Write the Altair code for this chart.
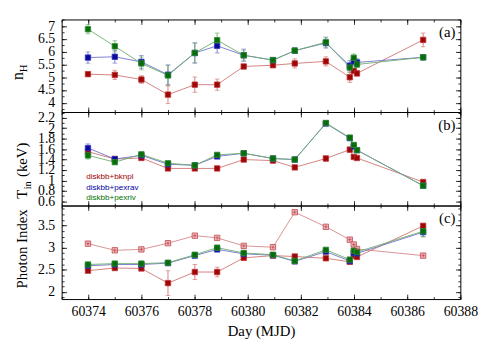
import altair as alt
import pandas as pd
import numpy as np

# ---------------- data ----------------
days = [60373.99, 60375.0, 60376.0, 60377.0, 60378.01, 60378.85, 60379.85,
        60380.95, 60381.77, 60382.94, 60383.84, 60383.99, 60384.11, 60386.6]

nh_bknpl = [5.12, 5.09, 4.91, 4.32, 4.71, 4.71, 5.42, 5.47, 5.54, 5.62, 5.00, 5.25, 5.15, 6.46]
nh_bknpl_err = [0.08, 0.18, 0.15, 0.35, 0.30, 0.22, 0.08, 0.08, 0.18, 0.18, 0.20, 0.10, 0.10, 0.27]
nh_pexrav = [5.77, 5.80, 5.60, 5.10, 5.95, 6.23, 5.86, 5.67, 6.04, 6.34, 5.45, 5.62, 5.58, 5.78]
nh_pexrav_err = [0.22, 0.25, 0.25, 0.38, 0.40, 0.28, 0.24, 0.10, 0.10, 0.20, 0.20, 0.15, 0.15, 0.10]
nh_pexriv = [6.88, 6.21, 5.54, 5.07, 5.95, 6.45, 5.86, 5.67, 6.04, 6.37, 5.38, 5.76, 5.50, 5.78]
nh_pexriv_err = [0.18, 0.22, 0.25, 0.40, 0.38, 0.28, 0.20, 0.08, 0.08, 0.20, 0.20, 0.15, 0.12, 0.10]

tin_bknpl = [1.55, 1.41, 1.43, 1.23, 1.23, 1.23, 1.40, 1.38, 1.25, 1.42, 1.59, 1.45, 1.43, 0.97]
tin_bknpl_err = [0.05, 0.02, 0.03, 0.02, 0.02, 0.02, 0.02, 0.02, 0.02, 0.05, 0.05, 0.03, 0.03, 0.03]
tin_pexrav = [1.62, 1.41, 1.48, 1.31, 1.29, 1.46, 1.52, 1.42, 1.40, 2.09, 1.81, 1.65, 1.58, 0.90]
tin_pexrav_err = [0.08, 0.02, 0.02, 0.02, 0.02, 0.02, 0.02, 0.02, 0.02, 0.03, 0.03, 0.03, 0.03, 0.03]
tin_pexriv = [1.48, 1.35, 1.50, 1.33, 1.29, 1.49, 1.52, 1.42, 1.40, 2.10, 1.82, 1.68, 1.58, 0.90]
tin_pexriv_err = [0.07, 0.02, 0.02, 0.02, 0.02, 0.02, 0.02, 0.02, 0.02, 0.03, 0.03, 0.03, 0.03, 0.03]

gam1_bknpl = [2.48, 2.54, 2.53, 2.20, 2.45, 2.45, 2.77, 2.82, 2.80, 2.76, 2.68, 2.82, 2.79, 3.49]
gam1_bknpl_err = [0.03, 0.04, 0.04, 0.28, 0.17, 0.11, 0.03, 0.03, 0.03, 0.03, 0.04, 0.04, 0.04, 0.06]
gam2_bknpl = [3.09, 2.94, 2.96, 3.10, 3.27, 3.22, 3.04, 3.01, 3.80, 3.47, 3.18, 3.07, 2.97, 2.82]
gam2_bknpl_err = [0.02] * 14
gam_pexrav = [2.59, 2.62, 2.62, 2.65, 2.82, 2.96, 2.86, 2.83, 2.69, 2.91, 2.70, 2.88, 2.87, 3.35]
gam_pexrav_err = [0.02, 0.02, 0.02, 0.02, 0.02, 0.02, 0.02, 0.02, 0.02, 0.03, 0.03, 0.03, 0.03, 0.10]
gam_pexriv = [2.62, 2.64, 2.64, 2.66, 2.84, 3.00, 2.88, 2.84, 2.70, 2.95, 2.73, 2.93, 2.90, 3.37]
gam_pexriv_err = [0.02, 0.02, 0.02, 0.02, 0.02, 0.02, 0.02, 0.02, 0.02, 0.03, 0.03, 0.03, 0.03, 0.13]

legend_labels = ["diskbb+bknpl", "diskbb+pexrav", "diskbb+pexriv"]
x_major = [60374, 60376, 60378, 60380, 60382, 60384, 60386, 60388]

SERIES = ["bknpl", "bknpl2", "pexrav", "pexriv"]
LINE_COL = ["#d07474", "#d48888", "#7070cc", "#6cae6c"]
FILL_COL = ["#9c0606", "#f0b4b4", "#08089c", "#086c08"]
STROKE_COL = ["#c03434", "#c04852", "#3434c0", "#2e8e36"]
LEG_COL = ["#a00000", "#0000a0", "#007000"]

W = 405
XDOM = [60373, 60388]
FONT = "Liberation Serif"


def long_df(parts):
    rows = []
    for name, vals, errs in parts:
        for d, v, e in zip(days, vals, errs):
            rows.append({"day": d, "val": v, "lo": v - e, "hi": v + e, "s": name})
    return pd.DataFrame(rows)


def rng(a, b, step):
    return [round(v, 4) for v in np.arange(a, b + step / 2, step)]


x_minor = rng(60373, 60388, 0.5)


def axis_layers(df, ys, ymaj, ymin, xlab):
    xs = alt.Scale(domain=XDOM, nice=False, zero=False)
    common = dict(domain=False, grid=False, tickColor="black", tickWidth=0.8,
                  labelFont=FONT, labelFontSize=14, labelColor="black",
                  labelOverlap=False, labelFlush=False)

    def xa(orient, values, size, labels):
        kw = dict(common)
        kw.update(orient=orient, values=values, tickSize=size, offset=-size,
                  labels=labels, format="d", labelPadding=6)
        if labels:
            kw.update(title="Day (MJD)", titleFont=FONT, titleFontSize=15,
                      titleFontWeight="normal", titleColor="black", titlePadding=5)
        else:
            kw.update(title=None)
        return alt.Axis(**kw)

    def ya(orient, values, size, labels):
        kw = dict(common)
        kw.update(orient=orient, values=values, tickSize=size, offset=-size,
                  labels=labels, format="~g", labelPadding=7, title=None)
        return alt.Axis(**kw)

    base = alt.Chart(df).mark_point(opacity=0)
    spec = [("bottom", x_major, 5, xlab, "left", ymaj, 5, True),
            ("bottom", x_minor, 2.5, False, "left", ymin, 2.5, False),
            ("top", x_major, 5, False, "right", ymaj, 5, False),
            ("top", x_minor, 2.5, False, "right", ymin, 2.5, False)]
    out = []
    for xo, xv, xsz, xl, yo, yv, ysz, yl in spec:
        out.append(base.encode(
            x=alt.X("day:Q", scale=xs, axis=xa(xo, xv, xsz, xl)),
            y=alt.Y("val:Q", scale=ys, axis=ya(yo, yv, ysz, yl))))
    return out


def data_layers(df, ys):
    xs = alt.Scale(domain=XDOM, nice=False, zero=False)
    X = alt.X("day:Q", scale=xs, axis=None)
    col = alt.Color("s:N", scale=alt.Scale(domain=SERIES, range=LINE_COL), legend=None)
    line = alt.Chart(df).mark_line(strokeWidth=0.9).encode(
        x=X, y=alt.Y("val:Q", scale=ys, axis=None), color=col, order="day:Q")
    err = alt.Chart(df).mark_rule(strokeWidth=0.9).encode(
        x=X, y=alt.Y("lo:Q", scale=ys, axis=None), y2="hi:Q", color=col)
    caplo = alt.Chart(df).mark_point(shape="M-1,0L1,0", filled=False, size=22, strokeWidth=0.9).encode(
        x=X, y=alt.Y("lo:Q", scale=ys, axis=None), color=col)
    caphi = alt.Chart(df).mark_point(shape="M-1,0L1,0", filled=False, size=22, strokeWidth=0.9).encode(
        x=X, y=alt.Y("hi:Q", scale=ys, axis=None), color=col)
    pts = alt.Chart(df).mark_square(size=30, filled=True, strokeWidth=0.8, opacity=1).encode(
        x=X, y=alt.Y("val:Q", scale=ys, axis=None),
        fill=alt.Fill("s:N", scale=alt.Scale(domain=SERIES, range=FILL_COL), legend=None),
        stroke=alt.Stroke("s:N", scale=alt.Scale(domain=SERIES, range=STROKE_COL), legend=None))
    cross = alt.Chart(df).transform_filter(alt.datum.s == "bknpl2").mark_point(
        shape="M-1,0L1,0M0,-1L0,1", filled=False, size=12, strokeWidth=0.7,
        color="#b8404c", opacity=1).encode(x=X, y=alt.Y("val:Q", scale=ys, axis=None))
    return [line, err, caplo, caphi, pts, cross]


def text_layer(txt, x, y, size=15, angle=0, align="left", dx=0, dy=0, font=FONT, color="black"):
    d = pd.DataFrame({"t": [txt]})
    kw = dict(align=align, baseline="alphabetic", font=font, fontSize=size, color=color)
    if angle:
        kw["angle"] = angle
    if dx:
        kw["dx"] = dx
    if dy:
        kw["dy"] = dy
    return alt.Chart(d).mark_text(**kw).encode(x=alt.value(x), y=alt.value(y), text="t:N")


def panel(df, ydom, ymaj, ymin, xlab, extra, tag, h):
    ys = alt.Scale(domain=ydom, nice=False, zero=False)
    layers = axis_layers(df, ys, ymaj, ymin, xlab) + data_layers(df, ys) + extra
    layers.append(text_layer(tag, W - 5, 18, size=15, align="right"))
    return alt.layer(*layers).resolve_axis(x="independent", y="independent").resolve_scale(
        color="independent", fill="independent", stroke="independent").properties(width=W, height=h)


dfa = long_df([("bknpl", nh_bknpl, nh_bknpl_err), ("pexrav", nh_pexrav, nh_pexrav_err),
               ("pexriv", nh_pexriv, nh_pexriv_err)])
dfb = long_df([("bknpl", tin_bknpl, tin_bknpl_err), ("pexrav", tin_pexrav, tin_pexrav_err),
               ("pexriv", tin_pexriv, tin_pexriv_err)])
dfc = long_df([("bknpl", gam1_bknpl, gam1_bknpl_err), ("bknpl2", gam2_bknpl, gam2_bknpl_err),
               ("pexrav", gam_pexrav, gam_pexrav_err), ("pexriv", gam_pexriv, gam_pexriv_err)])

title_a = [text_layer("n", -39, 50.5, 16, 270, dx=-11),
           text_layer("H", -39, 50.5, 11, 270, dx=-3, dy=4)]
title_b = [text_layer("T", -35, 55, 15, 270, dx=-33),
           text_layer("in", -35, 55, 10.5, 270, dx=-23.5, dy=4),
           text_layer("(keV)", -35, 55, 15, 270, dx=-11)]
title_c = [text_layer("Photon Index", -35, 44, 15, 270, align="center")]

LEG_FONT = "Liberation Sans Narrow, Liberation Sans, Arial"
legend = [text_layer(legend_labels[0], 25, 68.5, 8.2, font=LEG_FONT, color=LEG_COL[0]),
          text_layer(legend_labels[1], 25, 79, 8.2, font=LEG_FONT, color=LEG_COL[1]),
          text_layer(legend_labels[2], 25, 89.5, 8.2, font=LEG_FONT, color=LEG_COL[2])]

pa = panel(dfa, [3.64, 7.26], rng(4, 7, 0.5), rng(3.75, 7.25, 0.25), False, title_a, "(a)", 94)
pb = panel(dfb, [0.52, 2.31], rng(0.6, 2.2, 0.2), rng(0.6, 2.3, 0.1), False, title_b + legend, "(b)", 95)
pc = panel(dfc, [1.84, 3.95], rng(2, 3.5, 0.5), rng(1.875, 3.875, 0.125), True, title_c, "(c)", 95)

chart = alt.vconcat(pa, pb, pc, spacing=0, bounds="flush").properties(
    padding={"left": 1.5, "top": 8, "right": 5, "bottom": 2},
    background="white"
).configure_view(stroke="black", strokeWidth=1)

chart.save("out.html", embed_options={"renderer": "svg", "actions": False})
